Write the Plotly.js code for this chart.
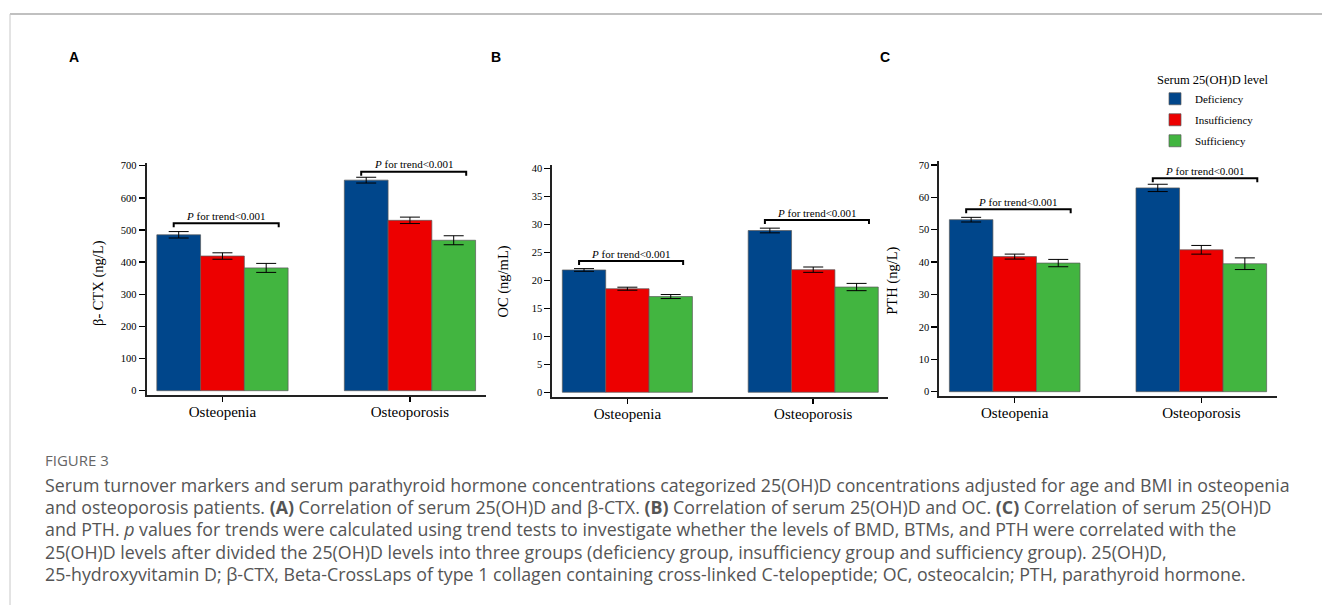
<!DOCTYPE html>
<html>
<head>
<meta charset="utf-8">
<script src="https://cdn.plot.ly/plotly-3.0.1.min.js"></script>
<style>html,body{margin:0;padding:0;background:#fff;}#chart{width:1322px;height:605px;}</style>
</head>
<body>
<div id="chart"></div>
<script>
// ---- data ----
const categories = ["Osteopenia", "Osteoporosis"];
const groups = ["Deficiency", "Insufficiency", "Sufficiency"];
const legendTitle = "Serum 25(OH)D level";

// Panel A: β-CTX (ng/L)
const ctxDeficiency = [485, 655];
const ctxInsufficiency = [419, 530];
const ctxSufficiency = [382, 468];
const ctxErrDeficiency = [10, 9];
const ctxErrInsufficiency = [10, 10];
const ctxErrSufficiency = [14, 14];
const ctxTrendBracket = [521, 681];

// Panel B: OC (ng/mL)
const ocDeficiency = [21.85, 28.9];
const ocInsufficiency = [18.5, 21.9];
const ocSufficiency = [17.1, 18.8];
const ocErrDeficiency = [0.24, 0.42];
const ocErrInsufficiency = [0.27, 0.48];
const ocErrSufficiency = [0.36, 0.65];
const ocTrendBracket = [23.45, 30.77];

// Panel C: PTH (ng/L)
const pthDeficiency = [53.1, 62.9];
const pthInsufficiency = [41.7, 43.8];
const pthSufficiency = [39.7, 39.5];
const pthErrDeficiency = [0.72, 1.13];
const pthErrInsufficiency = [0.77, 1.34];
const pthErrSufficiency = [1.13, 1.8];
const pthTrendBracket = [56.3, 65.9];

const panelLetters = ["A", "B", "C"];
const yTitles = ["β- CTX (ng/L)", "OC (ng/mL)", "PTH (ng/L)"];
const trendText = "<i>P</i> for trend&lt;0.001";

const captionHead = "FIGURE 3";
const captionLines = [
  "Serum turnover markers and serum parathyroid hormone concentrations categorized 25(OH)D concentrations adjusted for age and BMI in osteopenia",
  "and osteoporosis patients. <b>(A)</b> Correlation of serum 25(OH)D and β-CTX. <b>(B)</b> Correlation of serum 25(OH)D and OC. <b>(C)</b> Correlation of serum 25(OH)D",
  "and PTH. <i>p</i> values for trends were calculated using trend tests to investigate whether the levels of BMD, BTMs, and PTH were correlated with the",
  "25(OH)D levels after divided the 25(OH)D levels into three groups (deficiency group, insufficiency group and sufficiency group). 25(OH)D,",
  "25-hydroxyvitamin D; β-CTX, Beta-CrossLaps of type 1 collagen containing cross-linked C-telopeptide; OC, osteocalcin; PTH, parathyroid hormone."
];

// ---- layout helpers ----
const W = 1322, H = 605;
const px = v => v / W;
const py = v => 1 - v / H;
const colors = ["#00468B", "#ED0000", "#42B540"];
const serif = "Liberation Serif, Times New Roman, serif";

const panels = [
  {vals: [ctxDeficiency, ctxInsufficiency, ctxSufficiency], errs: [ctxErrDeficiency, ctxErrInsufficiency, ctxErrSufficiency], bracket: ctxTrendBracket,
   x0: 146.7, x1: 485.7, yTop: 163.3, yBot: 395.3, range: [-14.3, 707.4], dtick: 100, titleX: 98, titleY: 283, letterX: 73.5},
  {vals: [ocDeficiency, ocInsufficiency, ocSufficiency], errs: [ocErrDeficiency, ocErrInsufficiency, ocErrSufficiency], bracket: ocTrendBracket,
   x0: 552.3, x1: 888.3, yTop: 165, yBot: 396.7, range: [-0.79, 40.6], dtick: 5, titleX: 503, titleY: 281.5, letterX: 496},
  {vals: [pthDeficiency, pthInsufficiency, pthSufficiency], errs: [pthErrDeficiency, pthErrInsufficiency, pthErrSufficiency], bracket: pthTrendBracket,
   x0: 939.3, x1: 1276.7, yTop: 160.7, yBot: 396, range: [-1.33, 71.3], dtick: 10, titleX: 891.7, titleY: 281, letterX: 885}
];

const xIdx = categories.map((c, i) => i);
const traces = [];
const shapes = [];
const annotations = [];
const layout = {
  width: W, height: H,
  margin: {l: 0, r: 0, t: 0, b: 0},
  paper_bgcolor: "#fff", plot_bgcolor: "#fff",
  barmode: "group", bargap: 0.3, bargroupgap: 0,
  showlegend: true,
  legend: {
    x: px(1155), y: py(68), xanchor: "left", yanchor: "top",
    title: {text: legendTitle, font: {family: serif, size: 12.5, color: "#000"}},
    font: {family: serif, size: 11, color: "#000"},
    bgcolor: "rgba(0,0,0,0)", tracegroupgap: 2, traceorder: "grouped", itemwidth: 30
  },
  shapes: shapes, annotations: annotations
};

panels.forEach((p, k) => {
  const sfx = k === 0 ? "" : String(k + 1);
  const xa = "x" + sfx, ya = "y" + sfx;
  groups.forEach((g, j) => {
    traces.push({
      type: "bar", name: g, x: xIdx, y: p.vals[j], xaxis: xa, yaxis: ya,
      marker: {color: colors[j], line: {color: "rgba(90,90,90,0.7)", width: 1}},
      error_y: {type: "data", array: p.errs[j], visible: true, color: "#000", thickness: 1, width: 10},
      showlegend: k === 2, legendgroup: g, hoverinfo: "skip"
    });
  });
  layout["xaxis" + sfx] = {
    domain: [px(p.x0), px(p.x1)], anchor: ya, range: [-0.404, 1.404],
    tickvals: xIdx, ticktext: categories, ticks: "outside", ticklen: 5, tickwidth: 1.5, tickcolor: "#000",
    ticklabelstandoff: -3,
    showline: true, linecolor: "#222", linewidth: 2, showgrid: false, zeroline: false,
    tickfont: {family: serif, size: 15, color: "#000"}, fixedrange: true
  };
  layout["yaxis" + sfx] = {
    domain: [py(p.yBot), py(p.yTop)], anchor: xa, range: p.range, dtick: p.dtick, tick0: 0,
    ticks: "outside", ticklen: 6, tickwidth: 1.5, tickcolor: "#000",
    showline: true, linecolor: "#222", linewidth: 2, showgrid: false, zeroline: false,
    tickfont: {family: serif, size: 10.5, color: "#000"}, fixedrange: true
  };
  // trend brackets
  const span = p.range[1] - p.range[0];
  const d = span * 4 / (p.yBot - p.yTop);
  xIdx.forEach(i => {
    const yb = p.bracket[i];
    const xl = i - 0.26, xr = i + 0.30;
    shapes.push({type: "path", xref: xa, yref: ya,
      path: `M${xl},${yb - d} L${xl},${yb} L${xr},${yb} L${xr},${yb - d}`,
      line: {color: "#000", width: 2}});
    annotations.push({xref: xa, yref: ya, x: (xl + xr) / 2, y: yb, yshift: 7.5,
      xanchor: "center", yanchor: "middle", showarrow: false, text: trendText,
      font: {family: serif, size: 11, color: "#000"}});
  });
  // y title
  annotations.push({xref: "paper", yref: "paper", x: px(p.titleX), y: py(p.titleY), textangle: -90,
    xanchor: "center", yanchor: "middle", showarrow: false, text: yTitles[k],
    font: {family: serif, size: 14.5, color: "#000"}});
  // panel letter
  annotations.push({xref: "paper", yref: "paper", x: px(p.letterX), y: py(57),
    xanchor: "center", yanchor: "middle", showarrow: false, text: "<b>" + panelLetters[k] + "</b>",
    font: {family: "Liberation Sans, Arial, sans-serif", size: 14, color: "#000"}});
});

// frame lines
shapes.push({type: "line", xref: "paper", yref: "paper", x0: px(10), x1: 1, y0: py(14), y1: py(14), line: {color: "#c0c0c0", width: 2}});
shapes.push({type: "line", xref: "paper", yref: "paper", x0: px(10), x1: px(10), y0: py(14), y1: 0, line: {color: "#c8c8c8", width: 1}});

// caption
annotations.push({xref: "paper", yref: "paper", x: px(43), y: py(460), xanchor: "left", yanchor: "middle",
  showarrow: false, text: captionHead, font: {family: "Open Sans, sans-serif", size: 15, color: "#666"}});
const capY = [484.6, 507, 529.3, 551.6, 574];
captionLines.forEach((t, i) => {
  annotations.push({xref: "paper", yref: "paper", x: px(43), y: py(capY[i]), xanchor: "left", yanchor: "middle",
    showarrow: false, text: t, font: {family: "Open Sans, sans-serif", size: 17.8, color: "#555"}});
});

Plotly.newPlot("chart", traces, layout, {staticPlot: true, displayModeBar: false});
</script>
</body>
</html>
